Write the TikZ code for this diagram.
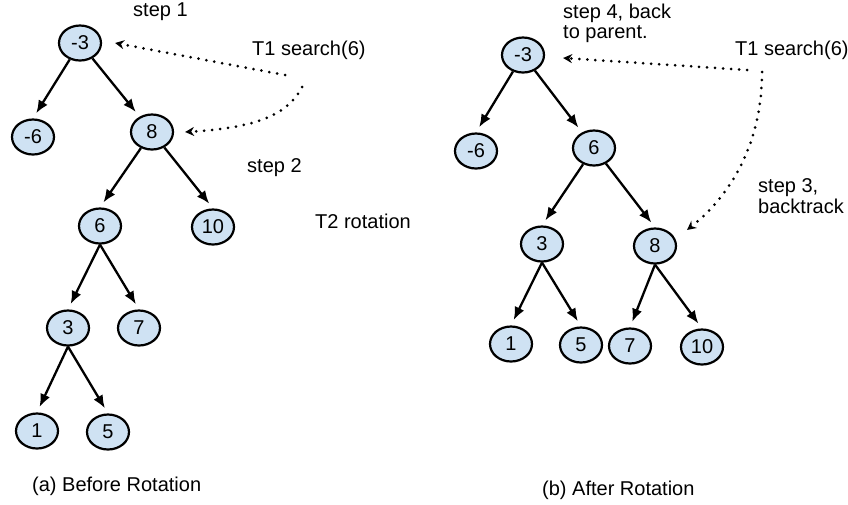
\documentclass[tikz,border=0pt]{standalone}
\usepackage{fontspec}
\setmainfont{Liberation Sans}
\usetikzlibrary{arrows.meta,shapes.geometric}

\definecolor{nodefill}{HTML}{CFE2F3}

\tikzset{
  bst/.style={ellipse, draw=black, line width=2.2pt, fill=nodefill,
    minimum width=42pt, minimum height=35pt, inner sep=0pt,
    font=\fontsize{20}{22}\selectfont},
  edge/.style={line width=2.3pt, -{Latex[length=13pt,width=10.5pt]}, shorten >=6pt},
  trace/.style={line width=3pt, dash pattern=on 0pt off 8pt, line cap=round,
    -{Stealth[length=9pt,width=9pt]}},
  lbl/.style={anchor=base west, inner sep=0pt, font=\fontsize{20}{22}\selectfont}
}

\begin{document}
\begin{tikzpicture}[x=1pt,y=-1pt]
\useasboundingbox (0,0) rectangle (848,504);

% ---------- (a) tree before rotation ----------
\node[bst] (a-3) at (80,43)  {-3};
\node[bst] (a-6) at (33,137) {-6};
\node[bst] (a8)  at (152,132) {8};
\node[bst] (a6)  at (100,226) {6};
\node[bst] (a10) at (213,227) {10};
\node[bst] (a3)  at (68,328) {3};
\node[bst] (a7)  at (139,328) {7};
\node[bst] (a1)  at (37,431) {1};
\node[bst] (a5)  at (108,432) {5};

\draw[edge] (a-3) -- (a-6.north);
\draw[edge] (a-3) -- (a8);
\draw[edge] (a8) -- (a6.north);
\draw[edge] (a8) -- (a10.north);
\draw[edge] (a6.south) -- (a3.north);
\draw[edge] (a6.south) -- (a7.north);
\draw[edge] (a3.south) -- (a1.north);
\draw[edge] (a3.south) -- (a5.north);

\node[lbl] (as1)  at (133,16)  {step 1};
\node[lbl] (at1)  at (252,55)  {T1 search(6)};
\node[lbl] (as2)  at (247,172) {step 2};
\node[lbl] (at2)  at (315,228) {T2 rotation};
\node[lbl] (acap) at (32,491)  {(a) Before Rotation};

\coordinate (ap1) at (285,75);
\coordinate (ap2) at (302,87);
\draw[trace] (ap1) -- ([xshift=13pt]a-3.east);
\draw[trace] (ap2) .. controls (288,115) and (255,128) .. ([xshift=11pt]a8.east);

% ---------- (b) tree after rotation ----------
\node[bst] (b-3) at (523,55)  {-3};
\node[bst] (b-6) at (476,151) {-6};
\node[bst] (b6)  at (594,148) {6};
\node[bst] (b3)  at (542,244) {3};
\node[bst] (b8)  at (655,246) {8};
\node[bst] (b1)  at (511,344) {1};
\node[bst] (b5)  at (581,345) {5};
\node[bst] (b7)  at (630,346) {7};
\node[bst] (b10) at (702,347) {10};

\draw[edge] (b-3) -- (b-6.north);
\draw[edge] (b-3) -- (b6);
\draw[edge] (b6) -- (b3.north);
\draw[edge] (b6) -- (b8.north);
\draw[edge] (b3.south) -- (b1.north);
\draw[edge] (b3.south) -- (b5.north);
\draw[edge] (b8.south) -- (b7.north);
\draw[edge] (b8.south) -- (b10.north);

\node[lbl] (bs4a) at (563,18)  {step 4, back};
\node[lbl] (bs4b) at (563,38)  {to parent.};
\node[lbl] (bt1)  at (735,55)  {T1 search(6)};
\node[lbl] (bs3a) at (758,192) {step 3,};
\node[lbl] (bs3b) at (758,213) {backtrack};
\node[lbl] (bcap) at (542,495) {(b) After Rotation};

\coordinate (bp1) at (747,70);
\coordinate (bp2) at (762,72);
\draw[trace] (bp1) -- ([xshift=18pt,yshift=-3pt]b-3.east);
\draw[trace] (bp2) .. controls (762,150) and (725,200) .. ([xshift=32pt,yshift=16pt]b8.center);
\end{tikzpicture}
\end{document}
